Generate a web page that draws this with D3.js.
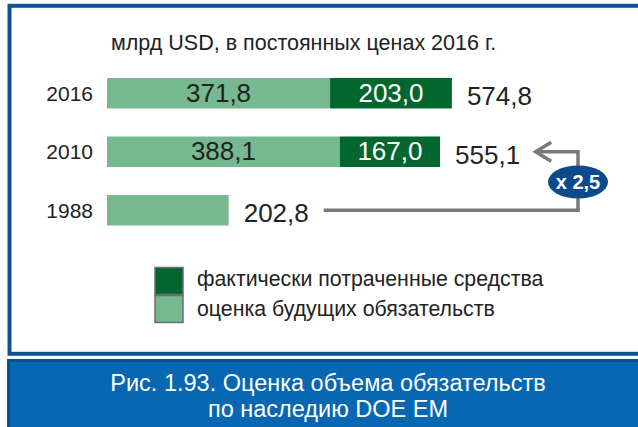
<!DOCTYPE html>
<html>
<head>
<meta charset="utf-8">
<script src="https://cdn.jsdelivr.net/npm/d3@7"></script>
<style>
  html, body { margin: 0; padding: 0; background: #fff; }
  svg { display: block; font-family: "Liberation Sans", Arial, sans-serif; }
</style>
</head>
<body>
<svg id="chart" width="638" height="427"></svg>
<script>
// Years shown, top to bottom
const years = ["2016", "2010", "1988"];
// Estimated future liabilities, bn USD (2016 prices)
const futureLiabilities = [371.8, 388.1, 202.8];
// Funds actually spent, bn USD (2016 prices)
const spentFunds = [203.0, 167.0, 0];
// Totals printed to the right of each bar
const totals = [574.8, 555.1, 202.8];
const growthLabel = "x 2,5";

const subtitle = "млрд USD, в постоянных ценах 2016 г.";
const legendLabels = ["фактически потраченные средства", "оценка будущих обязательств"];
const captionLines = ["Рис. 1.93. Оценка объема обязательств", "по наследию DOE EM"];

const colorFuture = "#76b991";
const colorSpent = "#02672f";
const frameBlue = "#0c5496";

const locale = d3.formatLocale({ decimal: ",", thousands: " ", grouping: [3], currency: ["", ""] });
const fmt = locale.format(".1f");

const svg = d3.select("#chart");

// outer frame (right edge runs off the page)
svg.append("rect")
  .attr("x", 9.5).attr("y", 5.8)
  .attr("width", 700).attr("height", 348)
  .attr("fill", "#fff")
  .attr("stroke", frameBlue).attr("stroke-width", 4);

// caption box
svg.append("rect")
  .attr("x", 8.5).attr("y", 360.5)
  .attr("width", 700).attr("height", 100)
  .attr("fill", "#0767b2")
  .attr("stroke", "#0b4f8f").attr("stroke-width", 3);

svg.selectAll("text.caption")
  .data(captionLines)
  .join("text")
  .attr("class", "caption")
  .attr("x", 328)
  .attr("y", (d, i) => 391 + i * 26)
  .attr("text-anchor", "middle")
  .attr("fill", "#fff")
  .attr("font-size", 23.5)
  .text(d => d);

// subtitle
svg.append("text")
  .attr("x", 111).attr("y", 49.5)
  .attr("fill", "#222")
  .attr("font-size", 21.5)
  .text(subtitle);

const x = d3.scaleLinear().domain([0, 600]).range([107, 467]);
const y = d3.scaleBand().domain(years).range([78, 225.5]).paddingInner(0.479).paddingOuter(0);

const rows = years.map((yr, i) => ({
  year: yr, future: futureLiabilities[i], spent: spentFunds[i], total: totals[i]
}));

const g = svg.append("g");

// estimated future liabilities segment
g.selectAll("rect.future")
  .data(rows)
  .join("rect")
  .attr("class", "future")
  .attr("x", x(0))
  .attr("y", d => y(d.year))
  .attr("width", d => x(d.future) - x(0))
  .attr("height", y.bandwidth())
  .attr("fill", colorFuture);

// funds actually spent segment
g.selectAll("rect.spent")
  .data(rows.filter(d => d.spent > 0))
  .join("rect")
  .attr("class", "spent")
  .attr("x", d => x(d.future))
  .attr("y", d => y(d.year))
  .attr("width", d => x(d.future + d.spent) - x(d.future))
  .attr("height", y.bandwidth())
  .attr("fill", colorSpent);

// in-bar value labels
const inside = [];
rows.forEach(d => {
  if (d.spent > 0) {
    inside.push({ year: d.year, v: d.future, cx: (x(0) + x(d.future)) / 2, fill: "#222" });
    inside.push({ year: d.year, v: d.spent, cx: (x(d.future) + x(d.future + d.spent)) / 2, fill: "#fff" });
  }
});
g.selectAll("text.inside")
  .data(inside)
  .join("text")
  .attr("class", "inside")
  .attr("x", d => d.cx)
  .attr("y", d => y(d.year) + y.bandwidth() / 2 + 8.5)
  .attr("text-anchor", "middle")
  .attr("font-size", 26)
  .attr("fill", d => d.fill)
  .text(d => fmt(d.v));

// year labels
g.selectAll("text.year")
  .data(rows)
  .join("text")
  .attr("class", "year")
  .attr("x", 93)
  .attr("y", d => y(d.year) + y.bandwidth() / 2 + 7.5)
  .attr("text-anchor", "end")
  .attr("font-size", 21)
  .attr("fill", "#222")
  .text(d => d.year);

// totals
const totalText = g.selectAll("text.total")
  .data(rows)
  .join("text")
  .attr("class", "total")
  .attr("x", d => x(d.future + d.spent) + 15)
  .attr("y", d => y(d.year) + y.bandwidth() / 2 + 12)
  .attr("font-size", 26)
  .attr("fill", "#222")
  .text(d => fmt(d.total));

// growth arrow from 1988 to 2010
const ends = {};
totalText.each(function(d) { ends[d.year] = x(d.future + d.spent) + 15 + this.getComputedTextLength(); });
const yFrom = y("1988") + y.bandwidth() / 2;
const yTo = y("2010") + y.bandwidth() / 2;
const xStart = ends["1988"] + 15;
const xTip = ends["2010"] + 14;
const xCorner = 578;
const arrowGray = "#78797c";

svg.append("path")
  .attr("d", `M${xStart},${yFrom}H${xCorner}V${yTo}H${xTip + 2}`)
  .attr("fill", "none")
  .attr("stroke", arrowGray)
  .attr("stroke-width", 3.5);
svg.append("path")
  .attr("d", `M${xTip + 17},${yTo - 9.5}L${xTip + 1.5},${yTo}L${xTip + 17},${yTo + 9.5}`)
  .attr("fill", "none")
  .attr("stroke", arrowGray)
  .attr("stroke-width", 3.5);

const bubbleY = (yFrom + yTo) / 2 + 1;
svg.append("ellipse")
  .attr("cx", xCorner).attr("cy", bubbleY)
  .attr("rx", 30).attr("ry", 16.5)
  .attr("fill", "#0b4a8b");
svg.append("text")
  .attr("x", xCorner).attr("y", bubbleY + 7)
  .attr("text-anchor", "middle")
  .attr("font-size", 20)
  .attr("font-weight", "bold")
  .attr("fill", "#fff")
  .text(growthLabel);

// legend
const legend = svg.append("g");
const legendItems = [
  { label: legendLabels[0], color: colorSpent },
  { label: legendLabels[1], color: colorFuture }
];
legend.selectAll("rect")
  .data(legendItems)
  .join("rect")
  .attr("x", 155).attr("y", (d, i) => 267.5 + i * 28)
  .attr("width", 28).attr("height", 27)
  .attr("fill", d => d.color)
  .attr("stroke", "#6d6e70").attr("stroke-width", 1.5);
legend.selectAll("text")
  .data(legendItems)
  .join("text")
  .attr("x", 197).attr("y", (d, i) => 286 + i * 29.5)
  .attr("font-size", 21.3)
  .attr("fill", "#222")
  .text(d => d.label);
</script>
</body>
</html>
